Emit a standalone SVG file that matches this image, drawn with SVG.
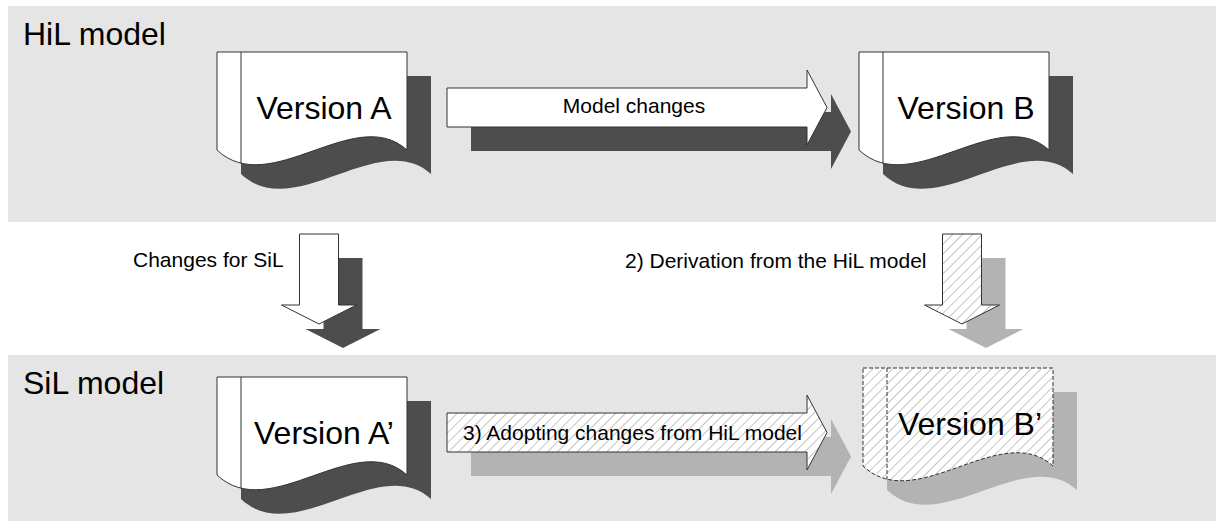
<svg xmlns="http://www.w3.org/2000/svg" xmlns:xlink="http://www.w3.org/1999/xlink" width="1216" height="528" viewBox="0 0 1216 528">
<style>
.panel{fill:#e5e5e5;stroke:none}
.doc{fill:#ffffff;stroke:#333333;stroke-width:1}
.docH{fill:url(#hatch);stroke:#333333;stroke-width:1;stroke-dasharray:4 2}
.line{fill:none;stroke:#333333;stroke-width:1}
.lineD{fill:none;stroke:#333333;stroke-width:1;stroke-dasharray:4 2}
.shD{fill:#4d4d4d;stroke:none}
.shL{fill:#b3b3b3;stroke:none}
.arr{fill:#ffffff;stroke:#333333;stroke-width:1}
.arrH{fill:url(#hatch);stroke:#333333;stroke-width:1}
text{font-family:"Liberation Sans",Arial,sans-serif;fill:#000000}
.title{font-size:32px}
.doct{font-size:32px;text-anchor:middle}
.lbl{font-size:21px}
</style>
<defs>
<pattern id="hatch" patternUnits="userSpaceOnUse" width="7" height="7" patternTransform="rotate(45)">
<rect width="7" height="7" fill="#ffffff"/>
<line x1="0" y1="0" x2="0" y2="7" stroke="#c4c4c4" stroke-width="2"/>
</pattern>
<path id="docShape" d="M0,0 h190 v98 c-52,-47 -137,50 -190,0 z"/>
<path id="hArrow" d="M0,0 H360 V-18 L380,19.5 L360,57 V39 H0 Z"/>
<path id="vArrow" d="M0,0 H39 V71 H57 L19.5,90 L-18,71 H0 Z"/>
</defs>

<g id="panels">
<rect id="hil-panel" class="panel" x="8" y="6" width="1208" height="216"/>
<rect id="sil-panel" class="panel" x="8" y="355" width="1208" height="166"/>
<text class="title" x="23" y="45">HiL model</text>
<text class="title" x="23" y="394">SiL model</text>
</g>

<g id="connectors">
<g id="model-changes">
<use xlink:href="#hArrow" href="#hArrow" class="shD" x="471" y="112"/>
<use xlink:href="#hArrow" href="#hArrow" class="arr" x="447" y="88"/>
<text class="lbl" x="634" y="113" text-anchor="middle">Model changes</text>
</g>
<g id="changes-for-sil">
<use xlink:href="#vArrow" href="#vArrow" class="shD" x="323.5" y="258"/>
<use xlink:href="#vArrow" href="#vArrow" class="arr" x="299.5" y="234"/>
<text class="lbl" x="133" y="267">Changes for SiL</text>
</g>
<g id="derivation">
<use xlink:href="#vArrow" href="#vArrow" class="shL" x="966.5" y="258"/>
<use xlink:href="#vArrow" href="#vArrow" class="arrH" x="942.5" y="234"/>
<text class="lbl" x="625" y="268">2) Derivation from the HiL model</text>
</g>
<g id="adopting">
<use xlink:href="#hArrow" href="#hArrow" class="shL" x="471" y="437"/>
<use xlink:href="#hArrow" href="#hArrow" class="arrH" x="447" y="413"/>
<text class="lbl" x="463" y="440">3) Adopting changes from HiL model</text>
</g>
</g>

<g id="version-a">
<use xlink:href="#docShape" href="#docShape" class="shD" x="241" y="76"/>
<use xlink:href="#docShape" href="#docShape" class="doc" x="217" y="52"/>
<line class="line" x1="241" y1="52" x2="241" y2="163.5"/>
<text class="doct" x="324" y="119">Version A</text>
</g>

<g id="version-b">
<use xlink:href="#docShape" href="#docShape" class="shD" x="883" y="76"/>
<use xlink:href="#docShape" href="#docShape" class="doc" x="859" y="52"/>
<line class="line" x1="883" y1="52" x2="883" y2="163.5"/>
<text class="doct" x="966" y="119">Version B</text>
</g>

<g id="version-a-prime">
<use xlink:href="#docShape" href="#docShape" class="shD" x="241" y="401"/>
<use xlink:href="#docShape" href="#docShape" class="doc" x="217" y="377"/>
<line class="line" x1="241" y1="377" x2="241" y2="488.5"/>
<text class="doct" x="324" y="444">Version A’</text>
</g>

<g id="version-b-prime">
<use xlink:href="#docShape" href="#docShape" class="shL" x="887" y="392"/>
<use xlink:href="#docShape" href="#docShape" class="docH" x="863" y="368"/>
<line class="lineD" x1="887" y1="368" x2="887" y2="479.5"/>
<text class="doct" x="970" y="435">Version B’</text>
</g>
</svg>
